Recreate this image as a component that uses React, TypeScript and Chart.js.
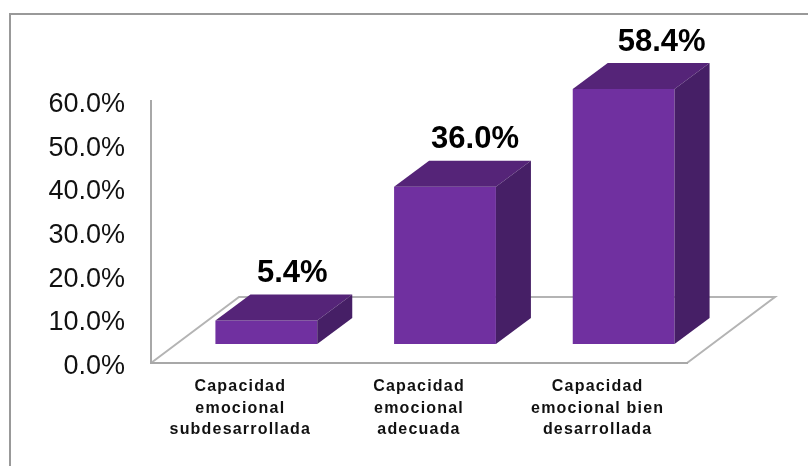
import React, { useEffect, useRef } from "react";
import { Chart, registerables } from "chart.js";

Chart.register(...registerables);

const categories = [
  ["Capacidad", "emocional", "subdesarrollada"],
  ["Capacidad", "emocional", "adecuada"],
  ["Capacidad", "emocional bien", "desarrollada"],
];
const values = [5.4, 36.0, 58.4];
const valueLabelShift = [26, 30, 38];

const FRONT = "#7030a0";
const TOP = "#552478";
const SIDE = "#461f66";
const FLOOR = "#b4b4b4";
const AXIS = "#a8a8a8";
const FRAME = "#999999";
const FONT = "'Liberation Sans', Arial, sans-serif";

const barOffset = { x: 26, y: -19 };
const depth = { x: 35, y: -26 };
const floorDepth = { x: 88, y: -66 };

const bar3d = {
  id: "bar3d",
  beforeDraw(chart: any) {
    const { ctx, width, height, chartArea: a } = chart;
    ctx.save();
    ctx.strokeStyle = FRAME;
    ctx.lineWidth = 2;
    ctx.beginPath();
    ctx.moveTo(10, height + 4);
    ctx.lineTo(10, 14);
    ctx.lineTo(width + 4, 14);
    ctx.stroke();
    ctx.restore();
    ctx.save();
    ctx.strokeStyle = FLOOR;
    ctx.lineWidth = 2;
    ctx.beginPath();
    ctx.moveTo(a.left, a.bottom);
    ctx.lineTo(a.left + floorDepth.x, a.bottom + floorDepth.y);
    ctx.lineTo(a.right + floorDepth.x, a.bottom + floorDepth.y);
    ctx.lineTo(a.right, a.bottom);
    ctx.stroke();
    ctx.restore();
  },
  beforeDatasetsDraw(chart: any) {
    chart.ctx.save();
    chart.ctx.translate(barOffset.x, barOffset.y);
  },
  afterDatasetsDraw(chart: any) {
    const { ctx } = chart;
    chart.getDatasetMeta(0).data.forEach((el: any) => {
      const l = el.x - el.width / 2;
      const r = el.x + el.width / 2;
      ctx.fillStyle = TOP;
      ctx.beginPath();
      ctx.moveTo(l, el.y);
      ctx.lineTo(l + depth.x, el.y + depth.y);
      ctx.lineTo(r + depth.x, el.y + depth.y);
      ctx.lineTo(r, el.y);
      ctx.closePath();
      ctx.fill();
      ctx.fillStyle = SIDE;
      ctx.beginPath();
      ctx.moveTo(r, el.y);
      ctx.lineTo(r + depth.x, el.y + depth.y);
      ctx.lineTo(r + depth.x, el.base + depth.y);
      ctx.lineTo(r, el.base);
      ctx.closePath();
      ctx.fill();
    });
    ctx.restore();
    (ctx as any).letterSpacing = "1.2px";
  },
  afterDraw(chart: any) {
    const { ctx } = chart;
    (ctx as any).letterSpacing = "0px";
    ctx.save();
    ctx.fillStyle = "#000";
    ctx.font = `bold 31px ${FONT}`;
    ctx.textAlign = "center";
    ctx.textBaseline = "middle";
    chart.getDatasetMeta(0).data.forEach((el: any, i: number) => {
      ctx.fillText(
        `${values[i].toFixed(1)}%`,
        el.x + barOffset.x + valueLabelShift[i],
        el.y + barOffset.y + depth.y - 21
      );
    });
    ctx.restore();
  },
};

export default function App() {
  const ref = useRef<HTMLCanvasElement>(null);
  useEffect(() => {
    const chart = new Chart(ref.current as HTMLCanvasElement, {
      type: "bar",
      data: {
        labels: categories as any,
        datasets: [
          {
            data: values,
            backgroundColor: FRONT,
            barPercentage: 0.57,
            categoryPercentage: 1,
            clip: false as any,
          },
        ],
      },
      options: {
        responsive: false,
        animation: false,
        layout: { padding: { top: 101, right: 121, left: 0, bottom: 0 } },
        plugins: { legend: { display: false }, tooltip: { enabled: false } },
        scales: {
          x: {
            afterFit: (s: any) => { s.height = 103; },
            grid: { display: false },
            border: { color: AXIS, width: 2 },
            ticks: {
              z: 1,
              color: "#111",
              autoSkip: false,
              maxRotation: 0,
              padding: 5,
              font: { family: FONT, size: 16, weight: "bold", lineHeight: 1.35 },
            },
          },
          y: {
            min: 0,
            max: 60,
            afterFit: (s: any) => { s.width = 151; },
            grid: { display: false },
            border: { color: AXIS, width: 2 },
            ticks: {
              stepSize: 10,
              color: "#111",
              padding: 18,
              labelOffset: 3.5,
              font: { family: FONT, size: 27 },
              callback: (v: any) => `${Number(v).toFixed(1)}%`,
            },
          },
        },
      },
      plugins: [bar3d],
    });
    return () => chart.destroy();
  }, []);
  return (
    <div style={{ position: "absolute", left: 0, top: 0, width: 808, height: 466, overflow: "hidden" }}>
      <canvas ref={ref} width={808} height={466} style={{ display: "block" }} />
    </div>
  );
}
